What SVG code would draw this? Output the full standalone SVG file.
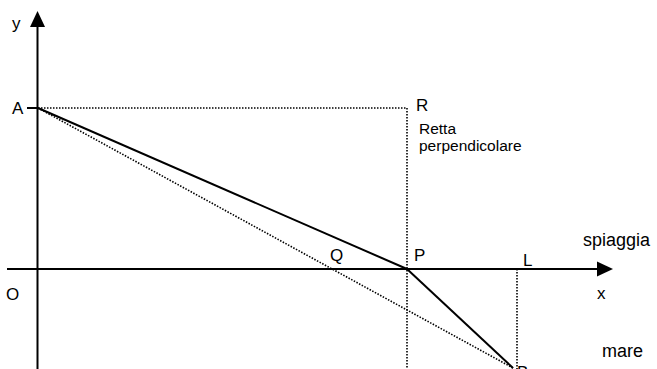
<svg xmlns="http://www.w3.org/2000/svg" width="657" height="369" viewBox="0 0 657 369">
<style>
.axis{stroke:#000;stroke-width:2;fill:none}
.solid{stroke:#000;stroke-width:2;fill:none}
.dot{stroke:#000;stroke-width:1.6;stroke-dasharray:1.5 1.5;fill:none}
.head{fill:#000;stroke:none}
text{font-family:"Liberation Sans",Arial,sans-serif;fill:#000}
.lbl{font-size:17px}
.big{font-size:18px}
.small{font-size:15.5px}
</style>
<rect width="657" height="369" fill="#fff"/>
<g id="axes">
<line class="axis" x1="37.5" y1="369" x2="37.5" y2="24"/>
<polygon class="head" points="37.5,11 30,27 45,27"/>
<line class="axis" x1="7" y1="269" x2="600" y2="269"/>
<polygon class="head" points="613,269 597,261.5 597,276.5"/>
</g>
<g id="connectors">
<line class="solid" x1="27" y1="108" x2="38" y2="108"/>
<line class="dot" x1="38" y1="108" x2="407" y2="108"/>
<line class="dot" x1="407" y1="108" x2="407" y2="369"/>
<line class="dot" x1="517" y1="269" x2="517" y2="369"/>
<line class="dot" x1="38" y1="108" x2="513" y2="368"/>
<line class="solid" x1="38" y1="108" x2="407" y2="269"/>
<line class="solid" x1="407" y1="269" x2="513" y2="368"/>
</g>
<g id="labels">
<text class="lbl" x="12" y="29">y</text>
<text class="lbl" x="12" y="114">A</text>
<text class="lbl" x="416" y="111">R</text>
<text class="small" x="419" y="134">Retta</text>
<text class="small" x="419" y="151">perpendicolare</text>
<text class="lbl" x="330" y="261">Q</text>
<text class="lbl" x="414" y="261">P</text>
<text class="lbl" x="523" y="266">L</text>
<text class="big" x="583" y="246">spiaggia</text>
<text class="lbl" x="597" y="299">x</text>
<text class="lbl" x="6" y="300">O</text>
<text class="big" x="602" y="357">mare</text>
<text class="lbl" x="517" y="378">B</text>
</g>
</svg>
